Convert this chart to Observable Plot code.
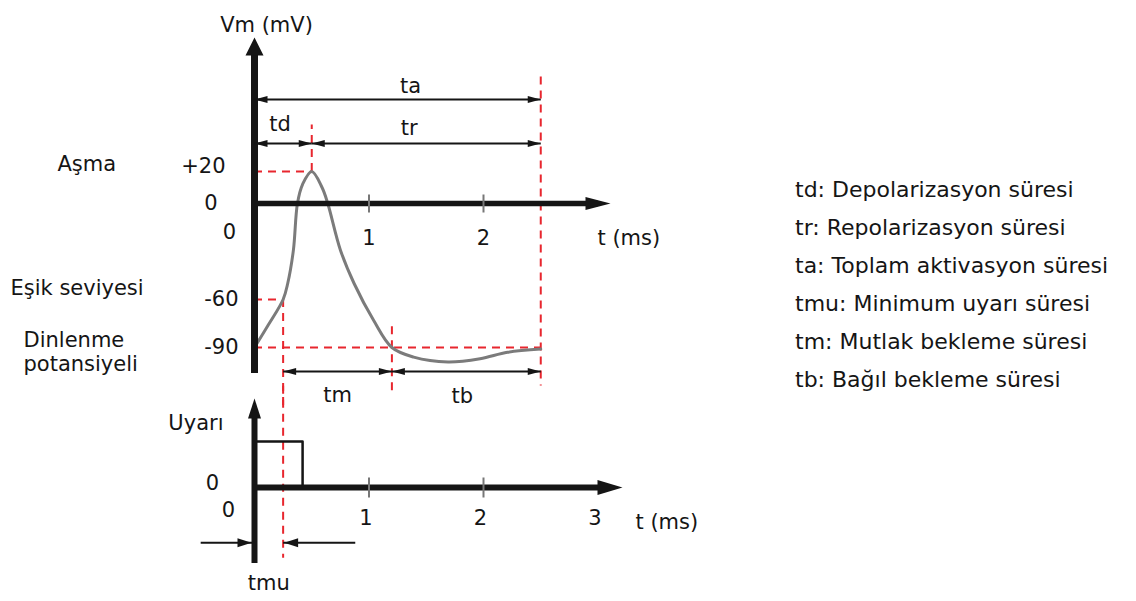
<!DOCTYPE html>
<html>
<head>
<meta charset="utf-8">
<script src="https://cdn.jsdelivr.net/npm/d3@7"></script>
<script src="https://cdn.jsdelivr.net/npm/@observablehq/plot@0.6"></script>
<style>
  body { margin: 0; background: #fff; }
  #figure { position: relative; width: 1136px; height: 601px; background: #fff; overflow: hidden;
            font-family: "DejaVu Sans", sans-serif; color: #151515; }
  #figure svg { position: absolute; left: 0; }
  #legend { position: absolute; left: 795px; top: 171px; font-size: 22px; line-height: 38px; white-space: nowrap; }
</style>
</head>
<body>
<div id="figure"><div id="legend"></div></div>
<script>
// Key instants of the action potential (ms) and its voltage levels (mV)
const tThreshold = 0.25;
const tPeak = 0.5;
const tAbsolute = 1.2;
const tEnd = 2.5;
const tStimulus = 0.42;
const vPeak = 20;
const vThreshold = -60;
const vRest = -90;

// Membrane potential trace
const apTime    = [0, 0.12, 0.25, 0.29, 0.34, 0.375, 0.42, 0.5, 0.59, 0.64, 0.75, 0.87, 1.04, 1.2, 1.39, 1.69, 1.97, 2.21, 2.5];
const apVoltage = [-90, -76, -60, -50, -29, 0, 12, 20, 10, 0, -29, -50, -73, -90, -96, -99, -97, -93, -91];

// Stimulus pulse
const stimTime  = [0, 0, tStimulus, tStimulus];
const stimLevel = [0, 1, 1, 0];

// Tick values and labels
const voltageTicks = [20, 0, -60, -90];
const voltageTickLabels = ["+20", "0", "-60", "-90"];
const timeTicks = [1, 2];
const stimTimeTicks = [1, 2, 3];

// Timing intervals
const spanNames = ["ta", "td", "tr", "tm", "tb"];
const spanStart = [0, 0, tPeak, tThreshold, tAbsolute];
const spanEnd   = [tEnd, tPeak, tEnd, tAbsolute, tEnd];

// Legend entries
const legendKeys = ["td", "tr", "ta", "tmu", "tm", "tb"];
const legendTexts = [
  "Depolarizasyon süresi",
  "Repolarizasyon süresi",
  "Toplam aktivasyon süresi",
  "Minimum uyarı süresi",
  "Mutlak bekleme süresi",
  "Bağıl bekleme süresi"
];

// ---------------------------------------------------------------------------
const INK = "#151515";
const RED = "#e8262e";
const FONT = "DejaVu Sans, sans-serif";
const txt = {fontFamily: FONT, fontSize: 21, fill: INK};
const guide = {stroke: RED, strokeWidth: 2, strokeDasharray: "8,6"};

// Filled arrowhead whose tip sits on the anchor point
function head(dir, len, half) {
  return {
    draw(ctx) {
      const p = dir === "right" ? [[0, 0], [-len, -half], [-len, half]]
              : dir === "left"  ? [[0, 0], [len, -half], [len, half]]
              :                   [[0, 0], [-half, len], [half, len]];
      ctx.moveTo(p[0][0], p[0][1]);
      ctx.lineTo(p[1][0], p[1][1]);
      ctx.lineTo(p[2][0], p[2][1]);
      ctx.closePath();
    }
  };
}
// Short vertical tick across the time axis
function tickMark(half) {
  return {draw(ctx) { ctx.moveTo(0, -half); ctx.lineTo(0, half); }};
}

const apData = apTime.map((t, i) => ({t, v: apVoltage[i]}));
const stimData = stimTime.map((t, i) => ({t, v: stimLevel[i]}));
const spans = spanNames.map((name, i) => ({name, start: spanStart[i], end: spanEnd[i]}));

// Row (in mV units of the upper panel) on which each interval arrow runs
const spanRow = {ta: 65, td: 37.5, tr: 37.5, tm: -105, tb: -105};
const spanLabelOffset = {ta: [13, -13], td: [-3, -19], tr: [-17, -15], tm: [0, 24], tb: [-4, 25]};
const rowOf = d => spanRow[d.name];

const xScale = {domain: [0, 1], range: [254, 368.5], axis: null};
const clear = {background: "transparent", overflow: "visible"};

// ---------------------------------------------------------------- upper panel
const upper = Plot.plot({
  width: 1136, height: 395,
  marginTop: 47, marginBottom: 22, marginLeft: 254, marginRight: 538,
  x: xScale,
  y: {domain: [0, -90], range: [203, 347], axis: null},
  style: clear,
  marks: [
    // dashed guides
    Plot.ruleY([vPeak], {x1: 0, x2: tPeak, ...guide}),
    Plot.ruleY([vThreshold], {x1: 0, x2: tThreshold, ...guide}),
    Plot.ruleY([vRest], {x1: 0, x2: tEnd, ...guide}),
    Plot.ruleX([tPeak], {y1: vPeak, y2: 49, ...guide}),
    Plot.ruleX([tThreshold], {y1: vThreshold, y2: -130, ...guide}),
    Plot.ruleX([tAbsolute], {y1: -77, y2: -117, ...guide}),
    Plot.ruleX([tEnd], {y1: 79, y2: -114, ...guide}),

    // action potential
    Plot.line(apData, {x: "t", y: "v", curve: "catmull-rom", stroke: "#7b7b7b", strokeWidth: 3}),

    // axes
    Plot.ruleX([0], {stroke: INK, strokeWidth: 7}),
    Plot.dot([0], {x: d => d, frameAnchor: "top", dy: -10, symbol: head("up", 18, 9), fill: INK, stroke: "none"}),
    Plot.ruleY([0], {stroke: INK, strokeWidth: 5.5}),
    Plot.dot([0], {y: d => d, frameAnchor: "right", dx: 12, symbol: head("right", 25, 6.5), fill: INK, stroke: "none"}),
    Plot.dot(timeTicks, {x: d => d, y: 0, symbol: tickMark(9), stroke: "#777", strokeWidth: 2, fill: "none"}),

    // tick labels
    Plot.text(timeTicks, {x: d => d, y: 0, text: d => String(d), dy: 35, ...txt}),
    Plot.text(["0"], {x: 0, y: 0, dx: -25, dy: 29, ...txt}),
    Plot.text(voltageTicks, {filter: d => d < 0, x: 0, y: d => d, text: (d, i) => voltageTickLabels[i], textAnchor: "end", dx: -16, ...txt}),
    Plot.text(voltageTicks, {filter: d => d === 20, x: 0, y: d => d, text: (d, i) => voltageTickLabels[i], textAnchor: "end", dx: -29, dy: -5, ...txt}),
    Plot.text(voltageTicks, {filter: d => d === 0, x: 0, y: d => d, text: (d, i) => voltageTickLabels[i], textAnchor: "end", dx: -37, ...txt}),
    Plot.text(["Vm (mV)"], {x: 0, frameAnchor: "top", dx: 12, dy: -30, ...txt}),
    Plot.text(["t (ms)"], {y: 0, frameAnchor: "right", textAnchor: "start", dx: -1, dy: 35, ...txt}),

    // level names
    Plot.text(["Aşma"], {x: 0, y: vPeak, textAnchor: "start", dx: -197, dy: -7, ...txt}),
    Plot.text(["Eşik seviyesi"], {x: 0, y: vThreshold, textAnchor: "start", dx: -244, dy: -11, ...txt}),
    Plot.text(["Dinlenme\npotansiyeli"], {x: 0, y: vRest, textAnchor: "start", lineHeight: 1.12, dx: -231, dy: 4, ...txt}),

    // interval arrows
    Plot.link(spans, {x1: "start", x2: "end", y1: rowOf, y2: rowOf, stroke: INK, strokeWidth: 2}),
    Plot.dot(spans, {x: "start", y: rowOf, symbol: head("left", 13, 3.5), fill: INK, stroke: "none"}),
    Plot.dot(spans, {x: "end", y: rowOf, symbol: head("right", 13, 3.5), fill: INK, stroke: "none"}),
    ...spans.map(s => Plot.text([s], {
      x: d => (d.start + d.end) / 2, y: rowOf, text: "name",
      dx: spanLabelOffset[s.name][0], dy: spanLabelOffset[s.name][1], ...txt
    }))
  ]
});
upper.style.top = "0px";

// ---------------------------------------------------------------- stimulus panel
const tmuRow = -1.2;
const tmuArrows = [{from: -0.47, to: 0, dir: "right"}, {from: 0.88, to: tThreshold, dir: "left"}];

const lower = Plot.plot({
  width: 1136, height: 206,
  marginTop: 15, marginBottom: 38, marginLeft: 254, marginRight: 538,
  x: xScale,
  y: {domain: [0, 1], range: [92, 46], axis: null},
  style: clear,
  marks: [
    Plot.ruleX([tThreshold], {y1: 2.2, y2: -1.54, ...guide}),

    // stimulus pulse
    Plot.line(stimData, {x: "t", y: "v", stroke: INK, strokeWidth: 2.5}),

    // axes
    Plot.ruleX([0], {stroke: INK, strokeWidth: 6}),
    Plot.dot([0], {x: d => d, frameAnchor: "top", dy: -12, symbol: head("up", 20, 6.5), fill: INK, stroke: "none"}),
    Plot.ruleY([0], {stroke: INK, strokeWidth: 6}),
    Plot.dot([0], {y: d => d, frameAnchor: "right", dx: 24, symbol: head("right", 25, 7.5), fill: INK, stroke: "none"}),
    Plot.dot(timeTicks, {x: d => d, y: 0, symbol: tickMark(10), stroke: "#777", strokeWidth: 2, fill: "none"}),

    // tick labels
    Plot.text(stimTimeTicks, {x: d => d, y: 0, text: d => String(d), dy: 31, dx: -3, ...txt}),
    Plot.text(["0"], {x: 0, y: 0, dx: -26, dy: 23, ...txt}),
    Plot.text(["0"], {x: 0, y: 0, dx: -42, dy: -4, ...txt}),
    Plot.text(["Uyarı"], {x: 0, frameAnchor: "top", textAnchor: "end", dx: -31, dy: 5, ...txt}),
    Plot.text(["t (ms)"], {y: 0, frameAnchor: "right", textAnchor: "start", dx: 37, dy: 35, ...txt}),

    // minimum stimulus duration
    Plot.link(tmuArrows, {x1: "from", x2: "to", y1: tmuRow, y2: tmuRow, stroke: INK, strokeWidth: 2}),
    Plot.dot(tmuArrows.filter(d => d.dir === "right"), {x: "to", y: tmuRow, dx: -3, symbol: head("right", 14, 4.5), fill: INK, stroke: "none"}),
    Plot.dot(tmuArrows.filter(d => d.dir === "left"), {x: "to", y: tmuRow, dx: 1, symbol: head("left", 14, 4.5), fill: INK, stroke: "none"}),
    Plot.text(["tmu"], {x: tThreshold / 2, y: tmuRow, dy: 41, ...txt})
  ]
});
lower.style.top = "395px";

const fig = document.getElementById("figure");
fig.appendChild(upper);
fig.appendChild(lower);

// legend
const legend = d3.select("#legend");
legendKeys.forEach((k, i) => legend.append("div").text(`${k}: ${legendTexts[i]}`));
</script>
</body>
</html>
